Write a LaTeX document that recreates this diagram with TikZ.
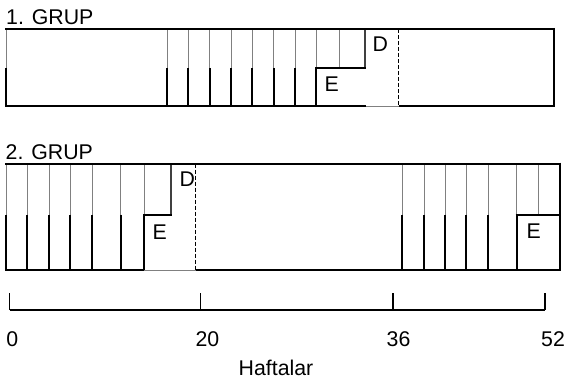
\documentclass[tikz,border=0pt]{standalone}
\usepackage{fontspec}
\setmainfont{Liberation Sans}
\begin{document}
\begin{tikzpicture}[x=1pt,y=-1pt,
  blk/.style={draw=black,line width=2pt},
  gry/.style={draw=black!50,line width=1pt},
  stepln/.style={draw=black!75,line width=1.4pt},
  dsh/.style={draw=black,line width=1pt,dash pattern=on 4pt off 2pt},
  axisln/.style={draw=black,line width=1.4pt},
  lbl/.style={inner sep=0pt,anchor=base west,font=\fontsize{21.3}{25}\selectfont},
  num/.style={inner sep=0pt,anchor=base,font=\fontsize{21.3}{25}\selectfont}]
\useasboundingbox (0,0) rectangle (564,385);
% ---------- Group 1 ----------
\node[lbl] (t1) at (6,25) {1. GRUP};
% gray upper verticals
\foreach \x in {6,167,188,209.5,231,252,273.5,295,316,339}
  \draw[gry] (\x,29) -- (\x,68.5);
\draw[stepln] (365,29) -- (365,68);
% black lower verticals
\foreach \x in {6,167,188,209.5,231,252,273.5,295,316}
  \draw[blk] (\x,68) -- (\x,106.5);
\draw[blk] (315,68) -- (366,68);
\draw[blk] (5,29) -- (555,29);
\draw[blk] (554,28) -- (554,107.5);
\draw[blk] (5,106.5) -- (366,106.5);
\draw[gry] (366,106.5) -- (398.5,106.5);
\draw[blk] (398.5,106.5) -- (555,106.5);
\draw[dsh] (398.5,29) -- (398.5,106.5);
\node[lbl] (d1) at (372.5,51.7) {D};
\node[lbl] (e1) at (324.5,91.7) {E};
% ---------- Group 2 ----------
\node[lbl] (t2) at (5.5,159) {2. GRUP};
\foreach \x in {6,27.3,49,70,92.3,120.7,144,402,424,445,466.3,488,516.7,538.7}
  \draw[gry] (\x,163.5) -- (\x,214.5);
\draw[stepln] (171,163.5) -- (171,214.5);
\foreach \x in {6,27.3,49,70,92.3,120.7,144,402,424,445,466.3,488,516.7}
  \draw[blk] (\x,214.5) -- (\x,270);
\draw[blk] (143,214.5) -- (171.7,214.5);
\draw[blk] (515.7,214.5) -- (559.5,214.5);
\draw[blk] (5,163.5) -- (560.5,163.5);
\draw[blk] (559.5,162.5) -- (559.5,271);
\draw[blk] (5,270) -- (144,270);
\draw[gry] (144,270) -- (195.7,270);
\draw[blk] (195.7,270) -- (560.5,270);
\draw[dsh] (195.7,163.5) -- (195.7,270);
\node[lbl] (d2) at (179.5,186) {D};
\node[lbl] (e2) at (152.5,239.3) {E};
\node[lbl] (e3) at (526.5,238.5) {E};
% ---------- Axis ----------
\coordinate (a0) at (9.7,310);
\coordinate (a20) at (200.4,310);
\coordinate (a36) at (393,310);
\coordinate (a52) at (545,310);
\draw[axisln] (a0) -- (a52);
\foreach \p in {a0,a20,a36,a52}
  \draw[axisln] (\p) -- ++(0,-17);
\node[num] (n0) at (12.3,346) {0};
\node[num] (n20) at (207.5,346) {20};
\node[num] (n36) at (398.5,346) {36};
\node[num] (n52) at (553,346) {52};
\node[num] (hx) at (276,375) {Haftalar};
\end{tikzpicture}
\end{document}
